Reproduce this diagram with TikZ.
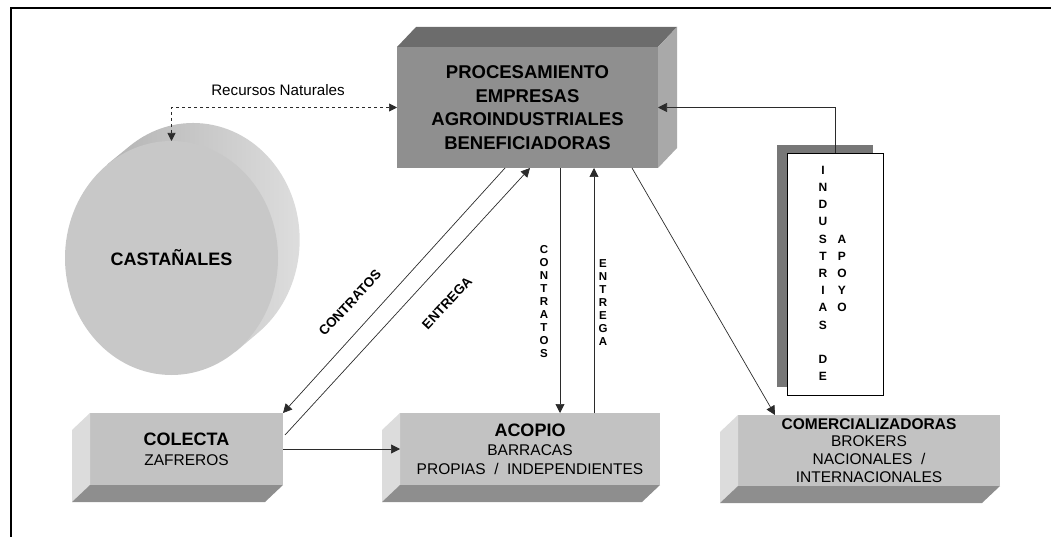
\documentclass[tikz,border=0pt]{standalone}
\usepackage{fontspec}
\setmainfont{Liberation Sans}
\usetikzlibrary{arrows.meta,calc,shapes.geometric}
\definecolor{procfront}{HTML}{8F8F8F}
\definecolor{proctop}{HTML}{6C6C6C}
\definecolor{procside}{HTML}{A9A9A9}
\definecolor{lowfront}{HTML}{C2C2C2}
\definecolor{lowleft}{HTML}{DCDCDC}
\definecolor{lowbot}{HTML}{8E8E8E}
\definecolor{castfront}{HTML}{C8C8C8}
\definecolor{castsideA}{HTML}{B4B4B4}
\definecolor{castsideB}{HTML}{E0E0E0}
\definecolor{indshadow}{HTML}{777777}
\definecolor{linec}{HTML}{2B2B2B}
\newcommand\lowfaces[1]{%
  \fill[lowleft] (#1.north west) -- ++(-18,17) -- ($(#1.south west)+(-18,17)$) -- (#1.south west) -- cycle;
  \fill[lowbot] (#1.south west) -- ++(-18,17) -- ($(#1.south east)+(-18,17)$) -- (#1.south east) -- cycle;}
\begin{document}
\begin{tikzpicture}[x=1pt,y=-1pt,
  box/.style={rectangle,inner sep=0pt,outer sep=0pt,align=center},
  conn/.style={draw=linec,line width=0.7pt},
  tip/.style={-{Triangle[length=9pt,width=9pt]}},
  lab/.style={inner sep=0pt,font=\fontsize{13.5}{15}\selectfont\bfseries},
  vlab/.style={inner sep=0pt,align=center,font=\fontsize{11.5}{12.9}\selectfont\bfseries}]
\useasboundingbox (0,0) rectangle (1051,537);
\draw[line width=2pt] (11,537) -- (11,8) -- (1051,8);

% Castanales cylinder (back side as one outline)
\shade[left color=castsideA,right color=castsideB]
  (129.4,146.3) arc[start angle=233.2, end angle=413.2, x radius=106.5, y radius=117]
  -- (235.6,351.7) -- (107.4,164.3) -- cycle;
\node[ellipse,minimum width=213pt,minimum height=234pt,inner sep=0pt,outer sep=0pt,fill=castfront,
  font=\fontsize{18}{20}\selectfont\bfseries] (cast) at (171.5,258) {CASTAÑALES};

% Procesamiento box
\node[box,fill=procfront,minimum width=261pt,minimum height=121pt,
  font=\fontsize{18.5}{23.5}\selectfont\bfseries] (proc) at (527.5,107.5)
  {PROCESAMIENTO\\EMPRESAS\\AGROINDUSTRIALES\\BENEFICIADORAS};
\fill[proctop] (proc.north west) -- ++(19,-20) -- ($(proc.north east)+(19,-20)$) -- (proc.north east) -- cycle;
\fill[procside] (proc.north east) -- ++(19,-20) -- ($(proc.south east)+(19,-20)$) -- (proc.south east) -- cycle;

% Lower boxes
\node[box,fill=lowfront,minimum width=193pt,minimum height=72pt,
  font=\fontsize{15.5}{20}\selectfont] (col) at (186.5,449)
  {{\fontsize{18}{20}\selectfont\bfseries COLECTA}\\ZAFREROS};
\lowfaces{col}
\node[box,fill=lowfront,minimum width=260pt,minimum height=72pt,
  font=\fontsize{15.5}{19}\selectfont] (aco) at (530,449)
  {{\fontsize{18}{19}\selectfont\bfseries ACOPIO}\\BARRACAS\\PROPIAS~~/~~INDEPENDIENTES};
\lowfaces{aco}
\node[box,fill=lowfront,minimum width=262pt,minimum height=71pt,
  font=\fontsize{15.5}{17.7}\selectfont] (com) at (869,450.5)
  {{\fontsize{15.5}{17.7}\selectfont\bfseries COMERCIALIZADORAS}\\BROKERS\\NACIONALES~~/\\INTERNACIONALES};
\lowfaces{com}

% Industrias de apoyo
\fill[indshadow] (777,145) rectangle (873,387);
\node[box,draw=black,line width=0.6pt,fill=white,minimum width=96pt,minimum height=242pt] (ind) at (835,274) {};
\node[inner sep=0pt,font=\fontsize{12}{17.2}\selectfont\bfseries] (indtxt) at (832.65,274)
  {\begin{tabular}{@{}c@{\hspace{10pt}}c@{}}
   I&\\ N&\\ D&\\ U&\\ S&A\\ T&P\\ R&O\\ I&Y\\ A&O\\ S&\\ &\\ D&\\ E&
   \end{tabular}};

% Recursos naturales
\node[inner sep=0pt,font=\fontsize{15.2}{17}\selectfont] (rn) at (278,90) {Recursos Naturales};
\draw[conn,dashed,{Triangle[length=8pt,width=8pt]}-{Triangle[length=8pt,width=8pt]}] (proc.west) -| (cast.north);

% Industrias -> Procesamiento
\draw[conn,tip] (ind.north) |- (proc.east);

% Diagonal connectors
\coordinate (pc1) at ($(proc.south west)+(108,0)$);
\coordinate (pe1) at ($(proc.south west)+(133,0)$);
\coordinate (ce) at ($(col.north east)+(2,22)$);
\draw[conn,tip] (pc1) -- (col.north east);
\draw[conn,tip] (ce) -- (pe1);
\node[lab,rotate=47] (lc) at (350,303) {CONTRATOS};
\node[lab,rotate=47] (le) at (447,303) {ENTREGA};

% Vertical connectors
\coordinate (pv1) at ($(proc.south west)+(163,0)$);
\coordinate (pv2) at ($(proc.south west)+(197,0)$);
\draw[conn,tip] (pv1) -- (pv1 |- aco.north);
\draw[conn,tip] (pv2 |- aco.north) -- (pv2);
\node[vlab] (vc) at (544,301.5) {C\\O\\N\\T\\R\\A\\T\\O\\S};
\node[vlab] (ve) at (603,302.5) {E\\N\\T\\R\\E\\G\\A};

% Procesamiento -> Comercializadoras
\coordinate (pc3) at ($(proc.south west)+(235,0)$);
\coordinate (cn) at ($(com.north west)+(37,0)$);
\draw[conn,tip] (pc3) -- (cn);

% Colecta -> Acopio
\draw[conn,tip] (col.east) -- (aco.west);
\end{tikzpicture}
\end{document}
